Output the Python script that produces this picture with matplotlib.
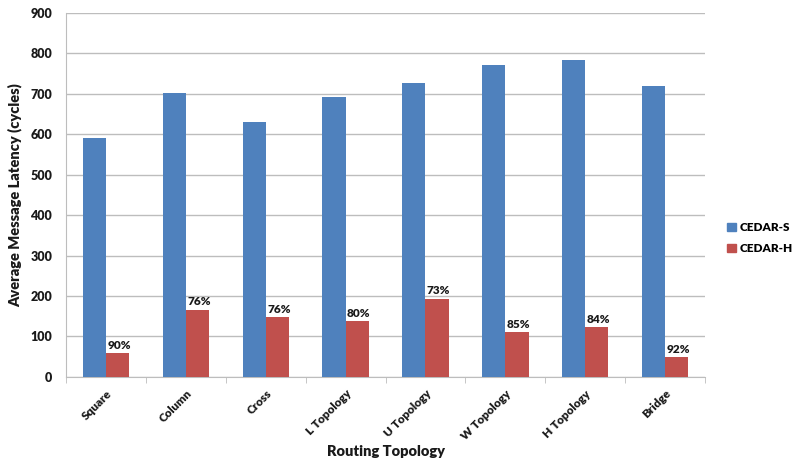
import numpy as np
import matplotlib
matplotlib.use('Agg')
from matplotlib import pyplot as plt
from matplotlib.patches import Patch

topologies = ['Square', 'Column', 'Cross', 'L Topology', 'U Topology',
              'W Topology', 'H Topology', 'Bridge']
cedar_s = [591, 702, 631, 692, 727, 771, 784, 720]
cedar_h = [59, 166, 148, 138, 193, 111, 123, 49]
reductions = ['90%', '76%', '76%', '80%', '73%', '85%', '84%', '92%']

blue = '#4F81BD'
red = '#C0504D'
grid_col = '#BDBDBD'
txt = '#1a1a1a'

plt.rcParams['font.family'] = ['Lato', 'DejaVu Sans']

fig = plt.figure(figsize=(7.92, 4.67), dpi=100)
ax = fig.add_axes([0.0833, 0.193, 0.807, 0.779])

x = np.arange(len(topologies))
w = 0.29
ax.bar(x - w / 2, cedar_s, w, color=blue, zorder=3)
bars_h = ax.bar(x + w / 2, cedar_h, w, color=red, zorder=3)

for rect, lab in zip(bars_h, reductions):
    ax.text(rect.get_x() + rect.get_width() / 2 + 0.02, rect.get_height() + 6, lab,
            ha='center', va='bottom', fontsize=8.5, fontweight='heavy', color=txt)

ax.set_xlim(-0.5, len(topologies) - 0.5)
ax.set_ylim(0, 900)
ax.set_yticks(np.arange(0, 901, 100))
ax.yaxis.grid(True, color=grid_col, linewidth=1, zorder=0)
ax.tick_params(axis='y', length=0, labelsize=9, pad=10, labelcolor=txt)
for t in ax.get_yticklabels():
    t.set_fontweight('heavy')

ax.set_xticks(x)
ax.set_xticklabels(topologies, rotation=45, ha='right', rotation_mode='anchor',
                   fontsize=8.5, fontweight='heavy', color=txt)
ax.tick_params(axis='x', which='major', length=0, pad=8)
ax.set_xticks(np.arange(-0.5, len(topologies)), minor=True)
ax.tick_params(axis='x', which='minor', length=4, color=grid_col, direction='out')

for s in ['top', 'right']:
    ax.spines[s].set_visible(False)
for s in ['left', 'bottom']:
    ax.spines[s].set_color(grid_col)

ax.set_ylabel('Average Message Latency (cycles)', fontsize=10.5, fontweight='heavy',
              color=txt, labelpad=6)
ax.set_xlabel('Routing Topology', fontsize=10.5, fontweight='heavy', color=txt,
              labelpad=2)

handles = [Patch(color=blue, label='CEDAR-S'), Patch(color=red, label='CEDAR-H')]
fig.legend(handles=handles, loc='center left', bbox_to_anchor=(0.905, 0.49),
           frameon=False, handlelength=0.7, handleheight=0.7,
           handletextpad=0.3, labelspacing=0.9, prop={'weight': 'heavy', 'size': 8.5})

fig.savefig('out.png', dpi=100)
